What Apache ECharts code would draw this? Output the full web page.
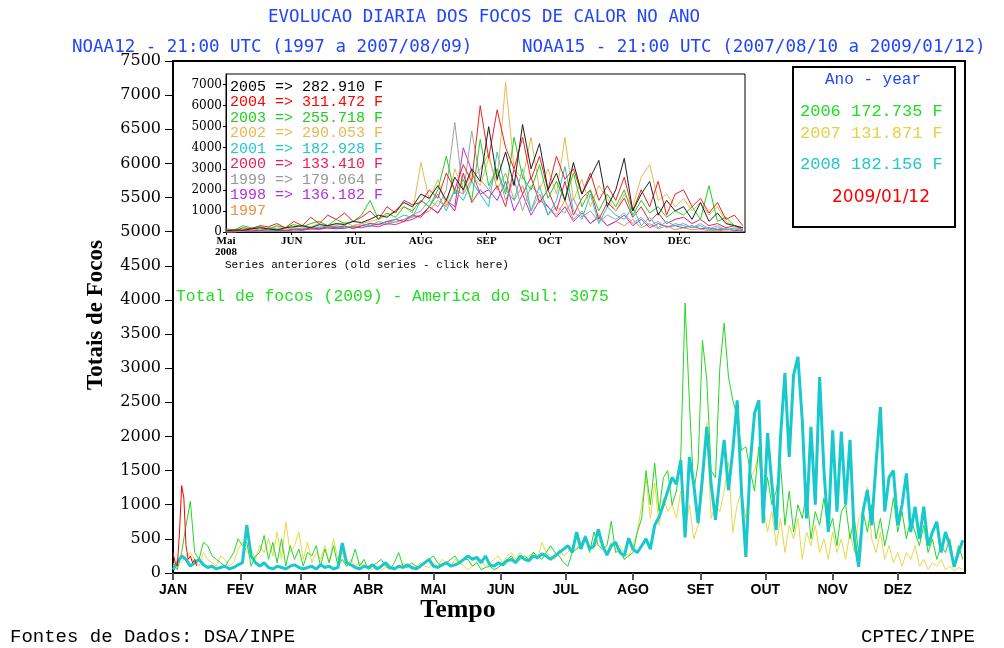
<!DOCTYPE html>
<html>
<head>
<meta charset="utf-8">
<script src="https://cdn.jsdelivr.net/npm/echarts@6/dist/echarts.min.js"></script>
<style>
  html, body { margin: 0; padding: 0; background: #fff; }
  #chart { width: 1004px; height: 648px; }
</style>
</head>
<body>
<div id="chart"></div>
<script>
// ---- main chart: daily fire counts, one value every 2 days (day 0 = 1 Jan)
const STEP_MAIN = 2
const monthStarts = [0, 31, 59, 90, 120, 151, 181, 212, 243, 273, 304, 334]
const monthNames = ['JAN', 'FEV', 'MAR', 'ABR', 'MAI', 'JUN', 'JUL', 'AGO', 'SET', 'OUT', 'NOV', 'DEZ']
const yTicks = [0, 500, 1000, 1500, 2000, 2500, 3000, 3500, 4000, 4500, 5000, 5500, 6000, 6500, 7000, 7500]

const focos2006 = [
  150, 50, 300, 700, 1050, 300, 200, 450, 400, 250,
  200, 150, 100, 200, 300, 500, 400, 450, 100, 250,
  300, 550, 200, 450, 150, 500, 100, 400, 200, 350,
  100, 300, 250, 400, 100, 350, 150, 400, 100, 200,
  100, 150, 350, 100, 200, 50, 100, 150, 200, 100,
  50, 150, 300, 100, 80, 150, 100, 80, 150, 200,
  250, 150, 100, 150, 200, 250, 150, 200, 200, 100,
  150, 50, 80, 100, 50, 80, 150, 200, 250, 150,
  200, 250, 200, 300, 250, 200, 300, 400, 300, 250,
  150, 100, 300, 350, 400, 550, 300, 600, 400, 350,
  400, 760, 300, 350, 200, 250, 300, 600, 800, 1500,
  1000, 1610, 900, 1400, 1500, 1000, 1200, 1700, 3955, 2500,
  1200, 1600, 3410, 2830, 1500, 1400, 3000, 3660, 2870, 2530,
  2300, 1800, 1850, 1500, 1200, 1850, 900, 1400, 1000, 1200,
  1610, 700, 1200, 600, 1000, 800, 1200, 500, 900, 700,
  1100, 600, 800, 400, 900, 1000, 500, 800, 300, 900,
  600, 1000, 500, 800, 400, 700, 1100, 600, 900, 500,
  800, 600, 400, 700, 300, 500, 200, 400, 300, 500,
  100, 400, 200
]
const focos2007 = [
  100, 200, 150, 250, 300, 200, 100, 300, 200, 150,
  100, 250, 200, 100, 150, 350, 450, 300, 350, 200,
  400, 300, 500, 250, 600, 200, 750, 300, 400, 600,
  200, 450, 150, 300, 200, 400, 150, 500, 200, 300,
  100, 200, 100, 150, 100, 80, 50, 100, 50, 80,
  100, 50, 80, 150, 100, 50, 100, 150, 100, 80,
  150, 100, 200, 150, 100, 200, 150, 100, 50, 100,
  150, 200, 100, 150, 200, 250, 150, 250, 300, 200,
  300, 200, 250, 300, 200, 450, 300, 250, 200, 350,
  250, 300, 400, 350, 450, 500, 400, 350, 500, 400,
  300, 450, 350, 400, 300, 250, 400, 600, 1000, 1400,
  800, 1320, 700, 1100, 900, 1000, 800, 1200, 600, 1000,
  500, 700, 1200, 2200, 800, 1000, 900, 1200, 1630, 590,
  1000, 1200, 800, 1400, 1500, 1760, 1000, 600, 900, 400,
  800, 300, 700, 500, 800, 200, 600, 400, 700, 300,
  500, 200, 600, 300, 500, 200, 600, 300, 800, 900,
  1260, 500, 300, 600, 200, 400, 150, 300, 100, 300,
  200, 400, 100, 200, 50, 150, 100, 200, 50, 100,
  30, 80, 50
]
const focos2008 = [
  50, 150, 250, 200, 100, 150, 200, 120, 80, 100,
  60, 80, 100, 60, 80, 120, 150, 700, 250, 150,
  100, 150, 80, 60, 100, 80, 60, 100, 120, 80,
  60, 80, 100, 60, 120, 80, 100, 60, 80, 440,
  150, 120, 80, 60, 100, 80, 120, 60, 100, 150,
  80, 60, 100, 80, 120, 80, 60, 100, 150, 200,
  100, 80, 120, 150, 100, 120, 150, 200, 250, 200,
  230, 150, 250, 120, 100, 150, 120, 180, 200, 150,
  250, 200, 180, 250, 220, 280, 250, 200, 250, 300,
  350, 400, 300, 600, 350, 530, 350, 400, 640, 400,
  260, 400, 450, 300, 250, 510, 350, 300, 400, 500,
  350, 700, 820, 1000, 1200, 1400, 1300, 1650, 520, 1700,
  1300, 730, 1400, 2140, 1300, 780, 1400, 1950, 1215, 1800,
  2530, 1200, 235, 1600, 2340, 2530, 730, 2050, 1300, 630,
  2000, 2930, 1700, 2900, 3165, 2240, 800, 2140, 1000, 2870,
  1500, 600, 2090, 900, 2070, 1000, 1950, 500, 90, 900,
  1215, 700, 1600, 2430, 900, 1400, 1500, 700, 1000, 1460,
  600, 970, 500, 970, 400, 600, 750, 300, 600, 400,
  90, 300, 480
]
// 2009: daily values up to 12 Jan
const focos2009 = [300, 150, 100, 600, 1280, 1100, 400, 200, 250, 150, 200, 100]

// ---- inset: older series, one value every 4 days from 1 May (day 120)
const INSET_START = 120
const STEP_INSET = 4
const insetMonthStarts = [120, 151, 181, 212, 243, 273, 304, 334]
const insetMonthNames = ['Mai\n2008', 'JUN', 'JUL', 'AUG', 'SEP', 'OCT', 'NOV', 'DEC']
const insetYTicks = [0, 1000, 2000, 3000, 4000, 5000, 6000, 7000]

const old1997 = [0, 0, 50, 80, 50, 100, 80, 60, 100, 150, 120, 200, 150, 180, 200, 250, 300, 250, 400, 350, 500, 600, 700, 800, 1000, 1500, 1200, 2000, 1800, 2500, 3000, 3700, 2000, 2800, 1500, 2200, 1000, 1800, 1200, 800, 1500, 600, 1000, 400, 800, 300, 500, 300, 600, 200, 400, 150, 300, 100, 200, 100, 150, 50, 100, 30, 50, 0]
const old1998 = [0, 20, 50, 30, 80, 50, 100, 60, 100, 80, 150, 120, 200, 150, 180, 250, 200, 300, 250, 400, 350, 500, 600, 800, 1200, 900, 1500, 1200, 4000, 2900, 1800, 2000, 1500, 2400, 1000, 1800, 800, 1500, 1200, 700, 1200, 500, 900, 400, 700, 300, 500, 800, 300, 600, 200, 400, 250, 300, 200, 300, 150, 200, 100, 150, 80, 50]
const old1999 = [0, 0, 50, 100, 50, 80, 100, 150, 100, 200, 150, 250, 200, 300, 250, 200, 300, 400, 350, 500, 450, 600, 800, 1000, 1500, 1200, 2000, 5200, 1800, 4800, 2500, 2000, 3000, 1500, 2500, 1000, 2200, 1800, 800, 1200, 900, 1600, 700, 1000, 500, 800, 600, 900, 400, 700, 300, 500, 200, 400, 300, 200, 400, 150, 300, 100, 200, 100]
const old2000 = [30, 50, 80, 100, 50, 150, 100, 80, 150, 100, 200, 150, 250, 200, 300, 150, 300, 400, 350, 500, 600, 500, 800, 700, 1200, 900, 1500, 1000, 2800, 1400, 2000, 1600, 2200, 1200, 3000, 1800, 2600, 1400, 2000, 1000, 2400, 800, 1600, 2000, 600, 1400, 1000, 1600, 700, 1200, 500, 900, 400, 600, 700, 400, 600, 300, 400, 200, 300, 100]
const old2001 = [50, 80, 100, 150, 100, 200, 150, 100, 200, 150, 250, 200, 300, 250, 200, 300, 400, 300, 500, 400, 600, 800, 700, 1500, 1200, 1800, 1000, 2000, 1500, 2400, 1800, 1200, 3800, 2000, 1500, 3000, 1000, 2200, 800, 1500, 3100, 1000, 600, 1800, 400, 1200, 800, 600, 1200, 300, 700, 200, 500, 300, 400, 200, 300, 100, 200, 100, 150, 50]
const old2002 = [50, 100, 150, 100, 200, 150, 250, 100, 200, 300, 250, 400, 300, 350, 450, 300, 400, 500, 600, 800, 1000, 1200, 900, 3300, 1500, 2500, 1200, 3000, 2000, 2800, 2200, 3500, 2400, 7100, 3000, 2500, 4500, 2000, 3000, 1800, 4500, 1500, 2500, 1200, 2200, 1600, 1000, 1800, 1200, 2600, 3200, 1500, 1800, 1200, 1600, 1000, 1400, 800, 1200, 500, 300, 200]
const old2003 = [150, 100, 300, 200, 250, 150, 300, 200, 350, 250, 400, 500, 300, 600, 400, 500, 800, 1500, 600, 900, 700, 1200, 1000, 1500, 1200, 2000, 3600, 1800, 2500, 1500, 4400, 2200, 3000, 1800, 4500, 2600, 2000, 3200, 1600, 2400, 1500, 2800, 1200, 2000, 1000, 1800, 1200, 2000, 800, 1500, 900, 1200, 700, 1000, 800, 1200, 600, 2200, 500, 700, 300, 200]
const old2004 = [100, 50, 200, 150, 300, 250, 400, 200, 500, 300, 700, 400, 800, 600, 900, 500, 700, 1000, 600, 1200, 900, 1500, 1300, 1400, 2000, 1600, 2800, 2000, 3200, 2400, 6000, 3500, 5800, 4000, 3000, 4500, 2500, 3600, 2000, 3600, 2500, 3000, 1800, 2800, 1500, 2200, 1500, 2600, 1000, 2000, 1200, 2400, 800, 1800, 2000, 1200, 1600, 900, 1400, 600, 800, 300]
const old2005 = [50, 100, 80, 150, 200, 150, 100, 200, 250, 300, 200, 350, 300, 400, 350, 500, 450, 600, 800, 700, 1000, 1400, 1200, 1800, 1600, 2200, 1500, 2600, 2000, 3000, 2400, 5000, 2500, 3800, 2200, 5100, 3000, 4200, 2000, 2800, 1500, 3300, 1800, 2600, 3400, 1200, 2000, 3500, 1000, 1800, 2400, 800, 1500, 1000, 1200, 600, 1400, 500, 900, 400, 300, 200]

const oldSeries = [
  { name: '1997', data: old1997, color: '#f0903c' },
  { name: '1998', data: old1998, color: '#b030e0' },
  { name: '1999', data: old1999, color: '#a0a0a0' },
  { name: '2000', data: old2000, color: '#e8205a' },
  { name: '2001', data: old2001, color: '#20c8c8' },
  { name: '2002', data: old2002, color: '#e8b850' },
  { name: '2003', data: old2003, color: '#20d020' },
  { name: '2004', data: old2004, color: '#f02020' },
  { name: '2005', data: old2005, color: '#202020' }
]
const oldLegend = [
  ['2005 => 282.910 F', '#000000'],
  ['2004 => 311.472 F', '#ff0000'],
  ['2003 => 255.718 F', '#22cc22'],
  ['2002 => 290.053 F', '#e8b850'],
  ['2001 => 182.928 F', '#20c8c8'],
  ['2000 => 133.410 F', '#e8205a'],
  ['1999 => 179.064 F', '#999999'],
  ['1998 => 136.182 F', '#b030e0'],
  ['1997', '#f0903c']
]

const toPairs = (arr, start, step) => arr.map((v, i) => [start + i * step, v])

const mainLine = (data, color, width) => ({
  type: 'line',
  xAxisIndex: 0,
  yAxisIndex: 0,
  data,
  symbol: 'none',
  silent: true,
  lineStyle: { color, width },
  z: 3
})

const text = (x, y, str, font, color, extra = {}) => ({
  type: 'text',
  x, y, z: 100,
  style: Object.assign({ text: str, font, fill: color, textVerticalAlign: 'middle' }, extra)
})

const graphics = [
  text(484, 17, 'EVOLUCAO DIARIA DOS FOCOS DE CALOR NO ANO', '17.5px "DejaVu Sans Mono"', '#2244ff', { textAlign: 'center' }),
  text(72, 47, 'NOAA12 - 21:00 UTC (1997 a 2007/08/09)', '17.5px "DejaVu Sans Mono"', '#2244ff'),
  text(522, 47, 'NOAA15 - 21:00 UTC (2007/08/10 a 2009/01/12)', '17.5px "DejaVu Sans Mono"', '#2244ff'),
  text(176, 297, 'Total de focos (2009) - America do Sul: 3075', '16.4px "Liberation Mono"', '#22dd22'),
  text(225, 265, 'Series anteriores (old series - click here)', '11px "Liberation Mono"', '#000'),
  text(873, 80, 'Ano - year', '16px "Liberation Mono"', '#2244ff', { textAlign: 'center' }),
  text(800, 111, '2006 172.735 F', '17px "Liberation Mono"', '#22dd22'),
  text(800, 133, '2007 131.871 F', '17px "Liberation Mono"', '#e8d040'),
  text(800, 164, '2008 182.156 F', '17px "Liberation Mono"', '#20c8c8'),
  text(881, 198, '2009/01/12', '17px "DejaVu Sans"', '#ff0000', { textAlign: 'center' }),
  text(458, 610, 'Tempo', 'bold 26px "Liberation Serif"', '#000', { textAlign: 'center' }),
  {
    type: 'text', x: 96, y: 315, rotation: Math.PI / 2, z: 100,
    style: { text: 'Totais de Focos', font: 'bold 23px "Liberation Serif"', fill: '#000', textAlign: 'center', textVerticalAlign: 'middle' }
  },
  text(10, 637, 'Fontes de Dados: DSA/INPE', '19px "Liberation Mono"', '#000'),
  text(975, 637, 'CPTEC/INPE', '19px "Liberation Mono"', '#000', { textAlign: 'right' }),
  {
    type: 'rect', z: 100,
    shape: { x: 793, y: 67, width: 162, height: 160 },
    style: { fill: 'none', stroke: '#000', lineWidth: 2 }
  }
]
oldLegend.forEach(([label, color], i) => {
  graphics.push(text(230, 87 + i * 15.5, label, '15px "Liberation Mono"', color))
})

const option = {
  animation: false,
  backgroundColor: '#fff',
  grid: [
    { left: 173, top: 61, width: 792, height: 512, show: true, borderColor: '#000', borderWidth: 2, backgroundColor: 'transparent' },
    { left: 226, top: 74, width: 519, height: 158, show: true, borderColor: '#000', borderWidth: 1, backgroundColor: '#fff' }
  ],
  xAxis: [
    {
      type: 'value', gridIndex: 0, min: 0, max: 365,
      axisLine: { lineStyle: { color: '#000', width: 2 } },
      axisTick: { customValues: monthStarts, length: 7, lineStyle: { color: '#555', width: 2 } },
      axisLabel: {
        customValues: monthStarts,
        formatter: v => monthNames[monthStarts.indexOf(v)] || '',
        color: '#000', fontFamily: 'Liberation Sans', fontWeight: 'bold', fontSize: 14, margin: 10
      },
      splitLine: { show: false }
    },
    {
      type: 'value', gridIndex: 1, min: INSET_START, max: 365,
      axisLine: { lineStyle: { color: '#000', width: 1 } },
      axisTick: { customValues: insetMonthStarts, length: 3, lineStyle: { color: '#000' } },
      axisLabel: {
        customValues: insetMonthStarts,
        formatter: v => insetMonthNames[insetMonthStarts.indexOf(v)] || '',
        color: '#000', fontFamily: 'Liberation Serif', fontWeight: 'bold', fontSize: 11, margin: 4, lineHeight: 11
      },
      splitLine: { show: false }
    }
  ],
  yAxis: [
    {
      type: 'value', gridIndex: 0, min: 0, max: 7500, interval: 500,
      axisLine: { show: true, lineStyle: { color: '#000', width: 2 } },
      axisTick: { show: true, length: 8, lineStyle: { color: '#000' } },
      axisLabel: {
        customValues: yTicks,
        formatter: v => String(v),
        color: '#000', fontFamily: 'DejaVu Serif', fontSize: 16, margin: 12
      },
      splitLine: { show: false }
    },
    {
      type: 'value', gridIndex: 1, min: 0, max: 7500,
      axisLine: { show: true, lineStyle: { color: '#000', width: 1 } },
      axisTick: { show: true, customValues: insetYTicks, length: 3, lineStyle: { color: '#000' } },
      axisLabel: {
        customValues: insetYTicks,
        formatter: v => String(v),
        color: '#000', fontFamily: 'DejaVu Serif', fontSize: 12, margin: 4
      },
      splitLine: { show: false }
    }
  ],
  graphic: graphics,
  series: [
    mainLine(toPairs(focos2007, 0, STEP_MAIN), '#e8d848', 1),
    mainLine(toPairs(focos2006, 0, STEP_MAIN), '#22d822', 1),
    mainLine(toPairs(focos2008, 0, STEP_MAIN), '#18c8cc', 3),
    mainLine(toPairs(focos2009, 0, 1), '#ff0000', 1),
    ...oldSeries.map(s => ({
      type: 'line',
      name: s.name,
      xAxisIndex: 1,
      yAxisIndex: 1,
      data: toPairs(s.data, INSET_START, STEP_INSET),
      symbol: 'none',
      silent: true,
      lineStyle: { color: s.color, width: 1 },
      z: 4
    }))
  ]
}

const chart = echarts.init(document.getElementById('chart'))
chart.setOption(option)
window.addEventListener('resize', () => chart.resize())
</script>
</body>
</html>
